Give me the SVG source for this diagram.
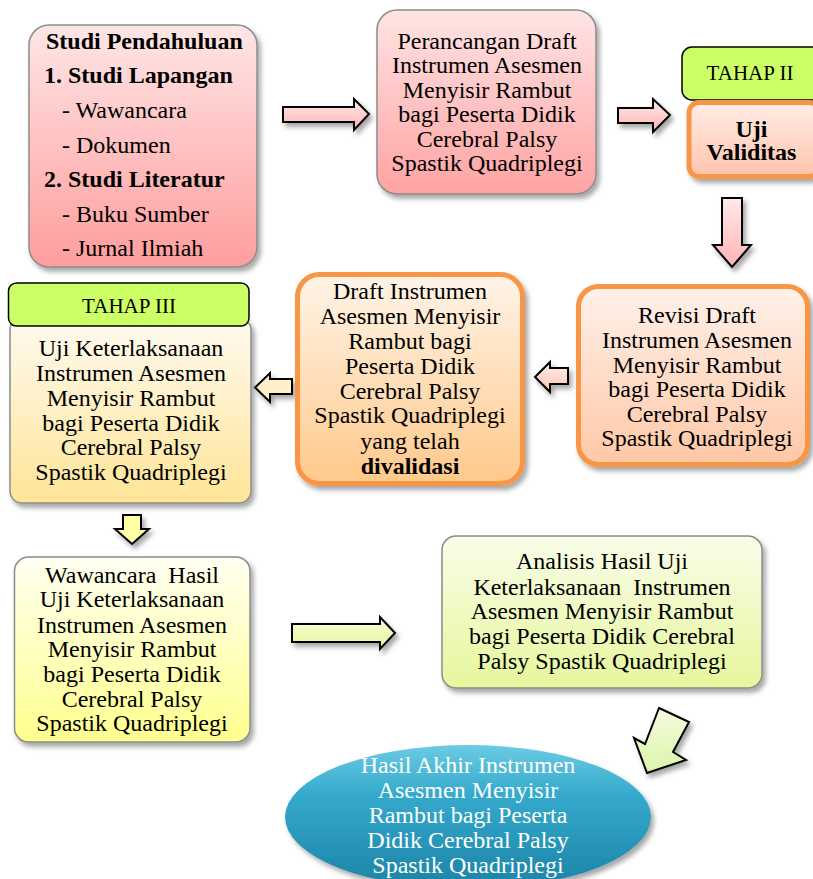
<svg xmlns="http://www.w3.org/2000/svg" width="813" height="879" viewBox="0 0 813 879">
<defs>
<filter id="sh" x="-10%" y="-10%" width="125%" height="125%">
<feDropShadow dx="3" dy="4" stdDeviation="2.5" flood-color="#000" flood-opacity="0.35"/>
</filter>
<linearGradient id="gPink" x1="0" y1="0" x2="0" y2="1"><stop offset="0" stop-color="#ffe6e6"/><stop offset="1" stop-color="#ff9d9d"/></linearGradient>
<linearGradient id="gPink2" x1="0" y1="0" x2="0" y2="1"><stop offset="0" stop-color="#ffe4e4"/><stop offset="1" stop-color="#ffa3a3"/></linearGradient>
<linearGradient id="gVal" x1="0" y1="0" x2="0" y2="1"><stop offset="0" stop-color="#ffece6"/><stop offset="1" stop-color="#ffc4ac"/></linearGradient>
<linearGradient id="gRev" x1="0" y1="0" x2="0" y2="1"><stop offset="0" stop-color="#fff1ea"/><stop offset="1" stop-color="#ffc8a6"/></linearGradient>
<linearGradient id="gDraft" x1="0" y1="0" x2="0" y2="1"><stop offset="0" stop-color="#fff4e8"/><stop offset="1" stop-color="#ffc98a"/></linearGradient>
<linearGradient id="gUji" x1="0" y1="0" x2="0" y2="1"><stop offset="0" stop-color="#fffaf0"/><stop offset="1" stop-color="#ffe597"/></linearGradient>
<linearGradient id="gWaw" x1="0" y1="0" x2="0" y2="1"><stop offset="0" stop-color="#fffff2"/><stop offset="1" stop-color="#ffff8e"/></linearGradient>
<linearGradient id="gAna" x1="0" y1="0" x2="0" y2="1"><stop offset="0" stop-color="#f9fde9"/><stop offset="1" stop-color="#e6f79c"/></linearGradient>
<linearGradient id="gEll" x1="0" y1="0" x2="0" y2="1"><stop offset="0" stop-color="#6ccbe4"/><stop offset="0.35" stop-color="#34a9cc"/><stop offset="1" stop-color="#1c83a6"/></linearGradient>
<linearGradient id="gArP" x1="0" y1="0" x2="0" y2="1"><stop offset="0" stop-color="#ffeaea"/><stop offset="1" stop-color="#ffb3b3"/></linearGradient>
<linearGradient id="gArD" x1="0" y1="0" x2="0" y2="1"><stop offset="0" stop-color="#ffefea"/><stop offset="1" stop-color="#ffc3ad"/></linearGradient>
<linearGradient id="gArG" x1="0" y1="0" x2="0" y2="1"><stop offset="0" stop-color="#ffffd8"/><stop offset="1" stop-color="#def59a"/></linearGradient>
<linearGradient id="gArG2" x1="0" y1="0" x2="0" y2="1"><stop offset="0" stop-color="#f4fce0"/><stop offset="1" stop-color="#dcf5a8"/></linearGradient>
</defs>
<style>
text{font-family:"Liberation Serif","Times New Roman",serif;font-size:24px;fill:#000}
.c{text-anchor:middle}
.b{font-weight:bold}
.t{font-size:21px}
.w{fill:#fff}
.pre{white-space:pre}
.box{stroke:#8c8c8c;stroke-width:1.5}
.obox{stroke:#f79646;stroke-width:5}
.tag{fill:#ccff66;stroke:#000;stroke-width:1.5}
.ar{stroke:#000;stroke-width:2;stroke-linejoin:miter}
</style>

<g id="connectors" filter="url(#sh)">
<polygon class="ar" fill="url(#gArP)" points="283,107 354,107 354,99 369,114 354,130 354,122 283,122"/>
<polygon class="ar" fill="url(#gArP)" points="618,108 653,108 653,99 670,115 653,132 653,123 618,123"/>
<polygon class="ar" fill="url(#gArP)" points="722,198 742,198 742,245 751,245 732,267 713,245 722,245"/>
<polygon class="ar" fill="url(#gArD)" points="568,368 550,368 550,362 535,377 550,392 550,384 568,384"/>
<polygon class="ar" fill="#fff0c9" points="292,379 270,379 270,373 255,387.5 270,402 270,394 292,394"/>
<polygon class="ar" fill="#ffffa8" points="123,515 141,515 141,529 149,529 132,544 115,529 123,529"/>
<polygon class="ar" fill="url(#gArG)" points="292,624 380,624 380,617 395,633 380,649 380,642 292,642"/>
<polygon class="ar" fill="url(#gArG2)" points="659,708 689,722 673,752 686,760 647,773 634,738 645,744"/>
</g>

<g id="studi">
<rect class="box" x="29" y="25" width="228" height="242" rx="20" fill="url(#gPink)" filter="url(#sh)"/>
<text class="b" x="46" y="48.5">Studi Pendahuluan</text>
<text class="b" x="44" y="83">1. Studi Lapangan</text>
<text x="62" y="117.5">- Wawancara</text>
<text x="62" y="152.5">- Dokumen</text>
<text class="b" x="44" y="187">2. Studi Literatur</text>
<text x="62" y="221.5">- Buku Sumber</text>
<text x="62" y="255.5">- Jurnal Ilmiah</text>
</g>

<g id="perancangan">
<rect class="box" x="377" y="10" width="219" height="184" rx="20" fill="url(#gPink2)" filter="url(#sh)"/>
<text class="c" x="487" y="48.5">Perancangan Draft</text>
<text class="c" x="487" y="73">Instrumen Asesmen</text>
<text class="c" x="487" y="97.5">Menyisir Rambut</text>
<text class="c" x="487" y="122">bagi Peserta Didik</text>
<text class="c" x="487" y="146.5">Cerebral Palsy</text>
<text class="c" x="487" y="171">Spastik Quadriplegi</text>
</g>

<g id="tahap2">
<rect class="tag" x="682" y="47" width="140" height="53" rx="10"/>
<text class="c t" x="750" y="79.5">TAHAP II</text>
</g>

<g id="validitas">
<rect class="obox" x="689" y="102.5" width="130" height="74" rx="10" fill="url(#gVal)" filter="url(#sh)"/>
<text class="c b" x="751.5" y="136.5">Uji</text>
<text class="c b" x="751.5" y="160">Validitas</text>
</g>

<g id="revisi">
<rect class="obox" x="578.5" y="286.5" width="229" height="178" rx="20" fill="url(#gRev)" filter="url(#sh)"/>
<text class="c" x="697" y="323">Revisi Draft</text>
<text class="c" x="697" y="348">Instrumen Asesmen</text>
<text class="c" x="697" y="372.5">Menyisir Rambut</text>
<text class="c" x="697" y="397">bagi Peserta Didik</text>
<text class="c" x="697" y="421.5">Cerebral Palsy</text>
<text class="c" x="697" y="446">Spastik Quadriplegi</text>
</g>

<g id="draft">
<rect class="obox" x="297.5" y="274.5" width="225" height="209" rx="22" fill="url(#gDraft)" filter="url(#sh)"/>
<text class="c" x="410" y="299">Draft Instrumen</text>
<text class="c" x="410" y="324">Asesmen Menyisir</text>
<text class="c" x="410" y="349">Rambut bagi</text>
<text class="c" x="410" y="374">Peserta Didik</text>
<text class="c" x="410" y="398.5">Cerebral Palsy</text>
<text class="c" x="410" y="423">Spastik Quadriplegi</text>
<text class="c" x="410" y="448.5">yang telah</text>
<text class="c b" x="410" y="474">divalidasi</text>
</g>

<g id="tahap3">
<rect class="box" x="10" y="318" width="241" height="185" rx="12" fill="url(#gUji)" filter="url(#sh)"/>
<rect class="tag" x="8.5" y="283" width="240.5" height="43" rx="8"/>
<text class="c t" x="129" y="313">TAHAP III</text>
<text class="c" x="131" y="356">Uji Keterlaksanaan</text>
<text class="c" x="131" y="381">Instrumen Asesmen</text>
<text class="c" x="131" y="405.5">Menyisir Rambut</text>
<text class="c" x="131" y="430.5">bagi Peserta Didik</text>
<text class="c" x="131" y="455">Cerebral Palsy</text>
<text class="c" x="131" y="479.5">Spastik Quadriplegi</text>
</g>

<g id="wawancara">
<rect class="box" x="14.5" y="557" width="235.5" height="185" rx="14" fill="url(#gWaw)" filter="url(#sh)"/>
<text class="c pre" x="132" y="582.5">Wawancara  Hasil</text>
<text class="c" x="132" y="607">Uji Keterlaksanaan</text>
<text class="c" x="132" y="632.5">Instrumen Asesmen</text>
<text class="c" x="132" y="657">Menyisir Rambut</text>
<text class="c" x="132" y="681.5">bagi Peserta Didik</text>
<text class="c" x="132" y="706.5">Cerebral Palsy</text>
<text class="c" x="132" y="731">Spastik Quadriplegi</text>
</g>

<g id="analisis">
<rect class="box" x="442" y="536" width="320" height="152" rx="14" fill="url(#gAna)" filter="url(#sh)"/>
<text class="c" x="602" y="569">Analisis Hasil Uji</text>
<text class="c pre" x="602" y="594.5">Keterlaksanaan  Instrumen</text>
<text class="c" x="602" y="619">Asesmen Menyisir Rambut</text>
<text class="c" x="602" y="644">bagi Peserta Didik Cerebral</text>
<text class="c" x="602" y="668.5">Palsy Spastik Quadriplegi</text>
</g>

<g id="hasil">
<ellipse cx="468" cy="817" rx="183" ry="72" fill="url(#gEll)" filter="url(#sh)"/>
<text class="c w" x="468" y="773">Hasil Akhir Instrumen</text>
<text class="c w" x="468" y="798">Asesmen Menyisir</text>
<text class="c w" x="468" y="823">Rambut bagi Peserta</text>
<text class="c w" x="468" y="848">Didik Cerebral Palsy</text>
<text class="c w" x="468" y="872.5">Spastik Quadriplegi</text>
</g>
</svg>
